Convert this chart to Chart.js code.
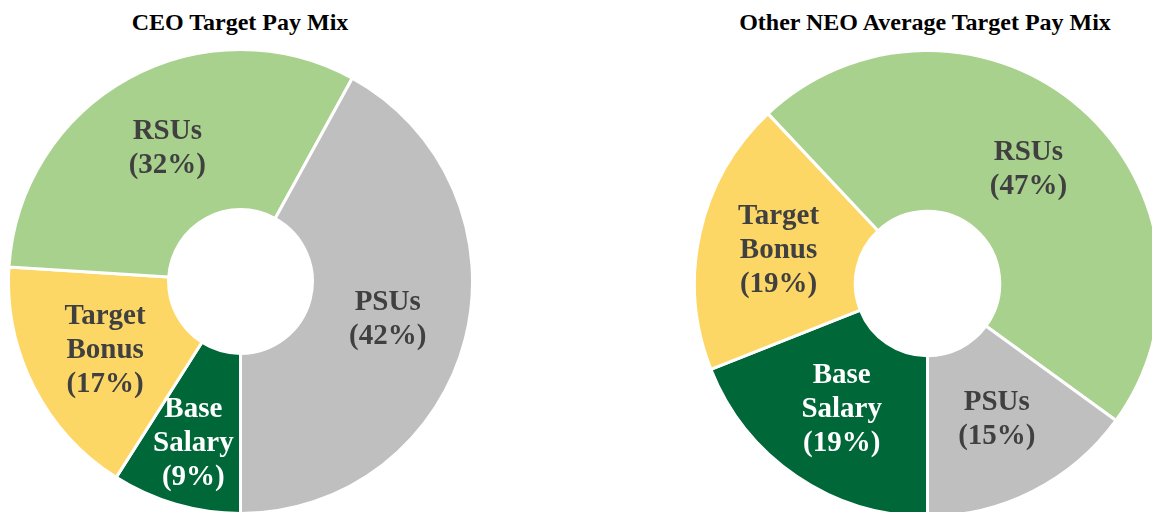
<!DOCTYPE html>
<html>
<head>
<meta charset="utf-8">
<script src="https://cdn.jsdelivr.net/npm/chart.js@4.4.0/dist/chart.umd.min.js"></script>
<style>
    html, body { margin: 0; padding: 0; width: 1152px; height: 512px; overflow: hidden; background: #fff; }
    .title { position: absolute; top: 9px; font: bold 24px "Liberation Serif", "Times New Roman", serif; color: #000; text-align: center; white-space: nowrap; }
    canvas { position: absolute; }
</style>
</head>
<body>
<div class="title" style="left:40px;width:400px;">CEO Target Pay Mix</div>
<div class="title" style="left:725px;width:400px;">Other NEO Average Target Pay Mix</div>
<canvas id="ceoChart" width="467" height="467" style="left:7px;top:48px;"></canvas>
<canvas id="neoChart" width="469" height="469" style="left:693px;top:49px;"></canvas>
<script>
// Pay components, drawn clockwise from the bottom
const categories = ['Base Salary', 'Target Bonus', 'RSUs', 'PSUs'];
const ceoValues = [9, 17, 32, 42];
const neoValues = [19, 19, 47, 15];
const sliceColors = ['#006838', '#FDD766', '#A9D18E', '#BFBFBF'];
const labelColors = ['#FFFFFF', '#404040', '#404040', '#404040'];

// Draws "Name (xx%)" inside each slice, one word per line
const sliceLabels = {
    id: 'sliceLabels',
    afterDatasetsDraw(chart, args, opts) {
        const ctx = chart.ctx;
        const meta = chart.getDatasetMeta(0);
        const values = chart.data.datasets[0].data;
        const push = opts.outward || [];
        ctx.save();
        ctx.font = 'bold 29px "Liberation Serif", "Times New Roman", serif';
        ctx.textAlign = 'center';
        ctx.textBaseline = 'middle';
        meta.data.forEach((arc, i) => {
            const pt = arc.getCenterPoint();
            // optional nudge away from the centre for thin slices
            const mid = (arc.startAngle + arc.endAngle) / 2;
            const extra = push[i] || 0;
            const x = pt.x + Math.cos(mid) * extra;
            const y = pt.y + Math.sin(mid) * extra;
            const lines = chart.data.labels[i].split(' ').concat('(' + values[i] + '%)');
            const lineHeight = 34;
            ctx.fillStyle = labelColors[i];
            lines.forEach((line, j) => {
                ctx.fillText(line, x, y + (j - (lines.length - 1) / 2) * lineHeight);
            });
        });
        ctx.restore();
    }
};

function makeChart(id, values, outward) {
    return new Chart(document.getElementById(id), {
        type: 'doughnut',
        data: {
            labels: categories,
            datasets: [{
                data: values,
                backgroundColor: sliceColors,
                borderColor: '#FFFFFF',
                borderWidth: 3
            }]
        },
        options: {
            responsive: false,
            animation: false,
            devicePixelRatio: 1,
            rotation: 180,
            cutout: '31%',
            layout: { padding: 0 },
            plugins: {
                legend: { display: false },
                tooltip: { enabled: false },
                sliceLabels: { outward: outward }
            }
        },
        plugins: [sliceLabels]
    });
}

makeChart('ceoChart', ceoValues, [17, 0, 0, 0]);
makeChart('neoChart', neoValues, [0, 0, 0, 0]);
</script>
</body>
</html>
